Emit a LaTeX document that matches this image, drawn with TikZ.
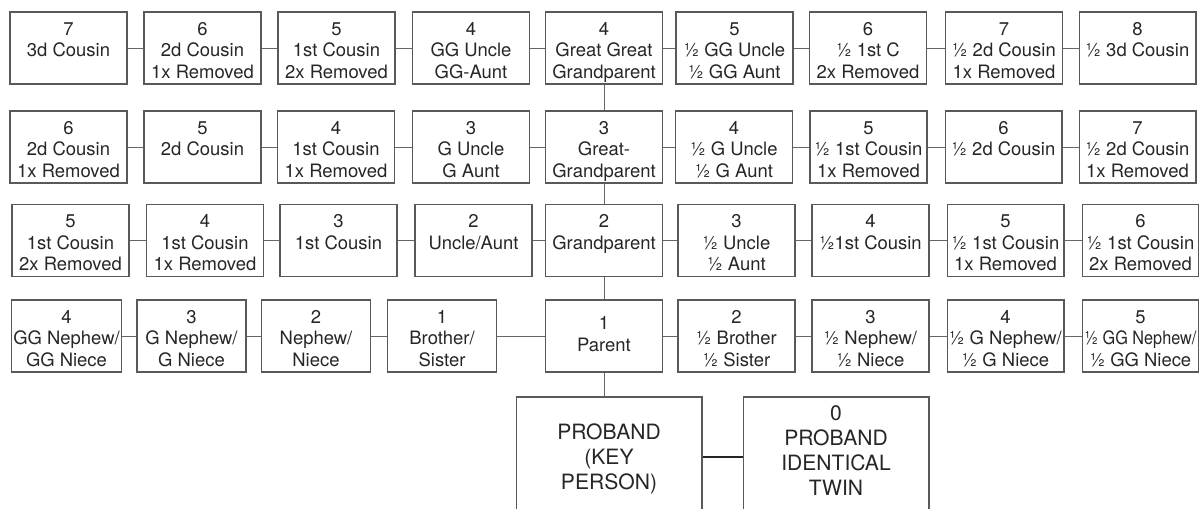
\documentclass[tikz,border=0pt]{standalone}
\usepackage{fontspec}
\setmainfont{TeX Gyre Heros}
\usepackage{graphicx}
\usepackage{tikz}

\newcommand{\kinlabel}[1]{\begin{tabular}[t]{@{}c@{}}#1\end{tabular}}

\begin{document}
\begin{tikzpicture}[
    x=0.02cm, y=-0.02cm,
    kin/.style={draw=black!65, line width=0.6pt, text=black!85, inner xsep=1pt,
        minimum width=2.34cm, minimum height=1.44cm,
        font=\fontsize{10.5}{12.2}\selectfont, text height=8pt, text depth=22.6pt},
    kinnarrow/.style={kin, minimum width=2.18cm},
    proband/.style={draw=black!65, line width=0.6pt, text=black!85,
        minimum width=3.72cm, minimum height=2.4cm,
        font=\fontsize{12}{14.2}\selectfont, text height=8pt},
    link/.style={draw=black!60, line width=0.55pt},
    twinlink/.style={draw=black!85, line width=1.6pt}
]
    \path[use as bounding box, clip] (0,0) rectangle (1199,509);

    % row 1
    \node[kin] (k11) at (68.5,48) {\kinlabel{7\\3d Cousin}};
    \node[kin] (k12) at (202.5,48) {\kinlabel{6\\2d Cousin\\1x Removed}};
    \node[kin] (k13) at (336.5,48) {\kinlabel{5\\1st Cousin\\2x Removed}};
    \node[kin] (k14) at (471,48) {\kinlabel{4\\GG Uncle\\GG-Aunt}};
    \node[kin] (k15) at (604,48) {\kinlabel{4\\Great Great\\Grandparent}};
    \node[kin] (k16) at (734.5,48) {\kinlabel{5\\½ GG Uncle\\½ GG Aunt}};
    \node[kin] (k17) at (868,48) {\kinlabel{6\\½ 1st C\\2x Removed}};
    \node[kin] (k18) at (1004,48) {\kinlabel{7\\½ 2d Cousin\\1x Removed}};
    \node[kin] (k19) at (1137.5,48) {\kinlabel{8\\½ 3d Cousin}};

    % row 2
    \node[kin] (k21) at (68.5,147) {\kinlabel{6\\2d Cousin\\1x Removed}};
    \node[kin] (k22) at (202.5,147) {\kinlabel{5\\2d Cousin}};
    \node[kin] (k23) at (336,147) {\kinlabel{4\\1st Cousin\\1x Removed}};
    \node[kin] (k24) at (471,147) {\kinlabel{3\\G Uncle\\G Aunt}};
    \node[kin] (k25) at (604,147) {\kinlabel{3\\Great-\\Grandparent}};
    \node[kin] (k26) at (734,147) {\kinlabel{4\\½ G Uncle\\½ G Aunt}};
    \node[kin] (k27) at (868.5,147) {\kinlabel{5\\½ 1st Cousin\\1x Removed}};
    \node[kin] (k28) at (1003.5,147) {\kinlabel{6\\½ 2d Cousin}};
    \node[kin] (k29) at (1137.5,147) {\kinlabel{7\\½ 2d Cousin\\1x Removed}};

    % row 3
    \node[kin] (k31) at (70.5,240.5) {\kinlabel{5\\1st Cousin\\2x Removed}};
    \node[kin] (k32) at (205,240.5) {\kinlabel{4\\1st Cousin\\1x Removed}};
    \node[kin] (k33) at (338.5,240.5) {\kinlabel{3\\1st Cousin}};
    \node[kin] (k34) at (473.5,240.5) {\kinlabel{2\\Uncle/Aunt}};
    \node[kin] (k35) at (604,240.5) {\kinlabel{2\\Grandparent}};
    \node[kin] (k36) at (736.5,240.5) {\kinlabel{3\\½ Uncle\\½ Aunt}};
    \node[kin] (k37) at (870.5,240.5) {\kinlabel{4\\½1st Cousin}};
    \node[kin] (k38) at (1005.5,240.5) {\kinlabel{5\\½ 1st Cousin\\1x Removed}};
    \node[kin] (k39) at (1140.5,240.5) {\kinlabel{6\\½ 1st Cousin\\2x Removed}};

    % row 4
    \node[kinnarrow] (k41) at (66.5,336) {\kinlabel{4\\GG Nephew/\\GG Niece}};
    \node[kinnarrow] (k42) at (191.5,336) {\kinlabel{3\\G Nephew/\\G Niece}};
    \node[kinnarrow] (k43) at (316,336) {\kinlabel{2\\Nephew/\\Niece}};
    \node[kinnarrow] (k44) at (442,336) {\kinlabel{1\\Brother/\\Sister}};
    \node[kin, text depth=15.3pt] (k45) at (604,336) {\kinlabel{1\\Parent}};
    \node[kin] (k46) at (736.5,336) {\kinlabel{2\\½ Brother\\½ Sister}};
    \node[kin] (k47) at (870.5,336) {\kinlabel{3\\½ Nephew/\\½ Niece}};
    \node[kin] (k48) at (1005.5,336) {\kinlabel{4\\½ G Nephew/\\½ G Niece}};
    \node[kin] (k49) at (1140.5,336) {\kinlabel{5\\\scalebox{0.88}[1]{½ GG Nephew/}\\½ GG Niece}};

    % proband and twin
    \node[proband, text depth=27.8pt] (pro) at (609,457) {\kinlabel{PROBAND\\(KEY\\PERSON)}};
    \node[proband, text depth=49.3pt] (twin) at (836,457) {\kinlabel{0\\PROBAND\\IDENTICAL\\TWIN}};

    % siblings in each row
    \draw[link] (k11) -- (k12); \draw[link] (k12) -- (k13); \draw[link] (k13) -- (k14);
    \draw[link] (k14) -- (k15); \draw[link] (k15) -- (k16); \draw[link] (k16) -- (k17);
    \draw[link] (k17) -- (k18); \draw[link] (k18) -- (k19);

    \draw[link] (k21) -- (k22); \draw[link] (k22) -- (k23); \draw[link] (k23) -- (k24);
    \draw[link] (k24) -- (k25); \draw[link] (k25) -- (k26); \draw[link] (k26) -- (k27);
    \draw[link] (k27) -- (k28); \draw[link] (k28) -- (k29);

    \draw[link] (k31) -- (k32); \draw[link] (k32) -- (k33); \draw[link] (k33) -- (k34);
    \draw[link] (k34) -- (k35); \draw[link] (k35) -- (k36); \draw[link] (k36) -- (k37);
    \draw[link] (k37) -- (k38); \draw[link] (k38) -- (k39);

    \draw[link] (k41) -- (k42); \draw[link] (k42) -- (k43); \draw[link] (k43) -- (k44);
    \draw[link] (k44) -- (k45); \draw[link] (k45) -- (k46); \draw[link] (k46) -- (k47);
    \draw[link] (k47) -- (k48); \draw[link] (k48) -- (k49);

    % line of descent
    \draw[link] (k15) -- (k25);
    \draw[link] (k25) -- (k35);
    \draw[link] (k35) -- (k45);
    \draw[link] (k45) -- (k45 |- pro.north);

    \draw[twinlink] (pro) -- (twin);
\end{tikzpicture}
\end{document}
